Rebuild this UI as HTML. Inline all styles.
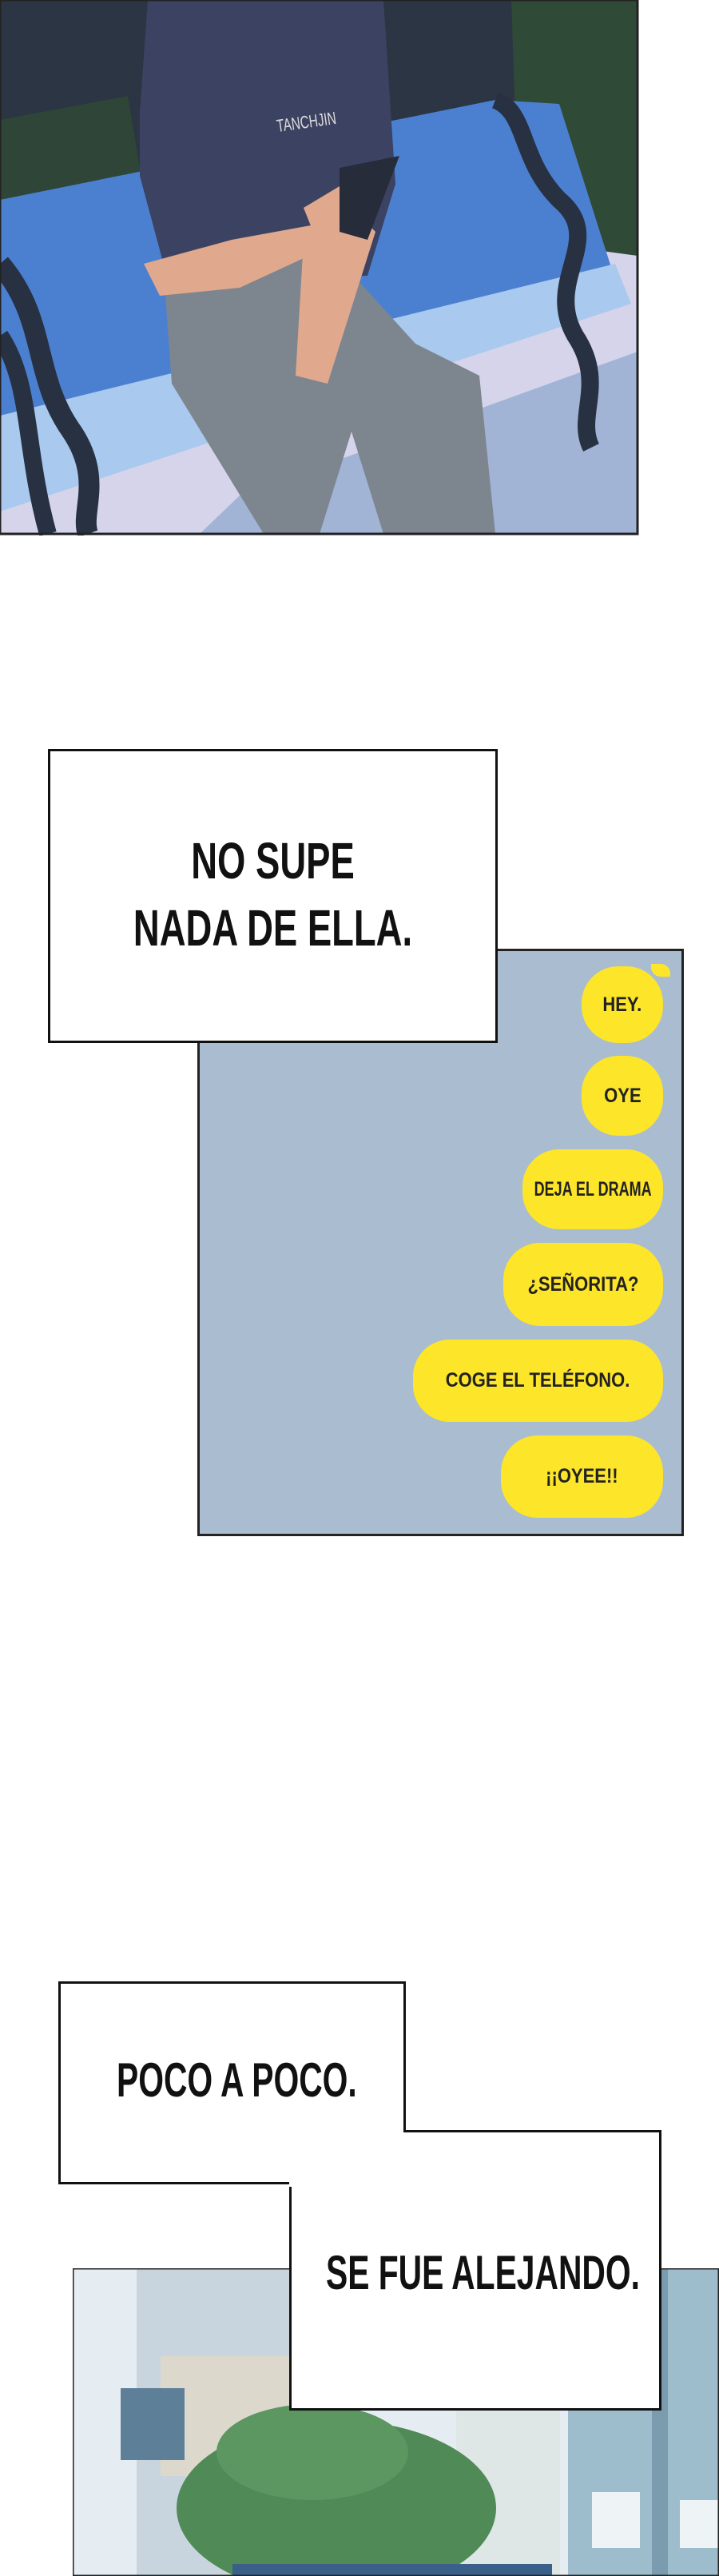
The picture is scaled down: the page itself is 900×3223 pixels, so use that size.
<!DOCTYPE html>
<html><head><meta charset="utf-8"><style>
html,body{margin:0;padding:0;background:#fff;}
body{width:900px;height:3223px;position:relative;overflow:hidden;font-family:"Liberation Sans",sans-serif;}
.abs{position:absolute;}
.box{position:absolute;background:#fff;border:3px solid #111;box-sizing:border-box;}
.cap{position:absolute;font-family:"Liberation Sans",sans-serif;color:#111;white-space:nowrap;font-weight:bold;}
.bub{position:absolute;background:#fde52a;border-radius:46px;display:flex;align-items:center;justify-content:center;font-family:"Liberation Sans","DejaVu Sans",sans-serif;font-weight:bold;font-size:25px;color:#222;white-space:nowrap;}
.bub span{display:inline-block;transform:scaleX(0.88);}
</style></head><body>

<!-- top panel -->
<svg class="abs" style="left:0;top:0" width="800" height="670" viewBox="0 0 800 670">
<rect x="0" y="0" width="798" height="668" fill="#d6d4ea"/>
<rect x="0" y="0" width="798" height="300" fill="#2c3543"/>
<polygon points="640,0 798,0 798,320 650,300" fill="#2f4a36"/>
<polygon points="0,150 160,120 180,240 0,280" fill="#2e4537"/>
<polygon points="0,250 620,125 700,130 770,350 0,600" fill="#4b80d0"/>
<polygon points="0,520 770,330 790,380 0,640" fill="#a9c9ee"/>
<polygon points="300,620 798,440 798,668 250,668" fill="#8aa6cc" opacity="0.7"/>
<path d="M620,125 C660,140 650,200 700,250 C760,300 680,350 720,420 C760,480 720,520 740,560" stroke="#283142" stroke-width="22" fill="none"/>
<path d="M0,330 C60,400 40,470 90,540 C130,600 100,640 110,668" stroke="#283142" stroke-width="26" fill="none"/>
<path d="M0,420 C40,480 30,560 60,668" stroke="#283142" stroke-width="22" fill="none"/>
<polygon points="175,140 185,0 480,0 495,230 460,345 210,350 175,220" fill="#3c4262"/>
<polygon points="205,340 420,320 520,430 600,470 620,668 480,668 440,540 400,668 330,668 215,480" fill="#7d858f"/>
<polygon points="180,330 290,300 400,280 430,300 300,360 200,370" fill="#e0a98e"/>
<polygon points="380,300 440,260 470,290 410,480 370,470" fill="#e0a98e"/>
<polygon points="380,260 430,230 470,250 460,300 400,310" fill="#e0a98e"/>
<polygon points="425,210 500,195 460,300 425,290" fill="#262c3a"/>
<rect x="0" y="0" width="798" height="668" fill="none" stroke="#222" stroke-width="3"/>
</svg>
<div class="cap" style="left:330px;top:140px;font-size:22px;color:#ddd;font-weight:normal;transform:rotate(-8deg) scaleX(0.7);">TANCHJIN</div>

<!-- blue chat panel -->
<div class="abs" style="left:247px;top:1187px;width:609px;height:735px;background:#aabcd0;border:3px solid #222;box-sizing:border-box;"></div>
<div class="bub" style="left:728px;top:1209px;width:102px;height:96px;"><span>HEY.</span></div>
<div class="abs" style="left:815px;top:1206px;width:24px;height:16px;background:#fde52a;border-radius:0 12px 0 12px;"></div>
<div class="bub" style="left:728px;top:1321px;width:102px;height:100px;"><span>OYE</span></div>
<div class="bub" style="left:654px;top:1438px;width:176px;height:100px;"><span style="transform:scaleX(0.72)">DEJA EL DRAMA</span></div>
<div class="bub" style="left:630px;top:1555px;width:200px;height:104px;"><span>¿SEÑORITA?</span></div>
<div class="bub" style="left:517px;top:1676px;width:313px;height:103px;"><span>COGE EL TELÉFONO.</span></div>
<div class="bub" style="left:627px;top:1796px;width:203px;height:103px;"><span>¡¡OYEE!!</span></div>

<!-- caption box 1 -->
<div class="box" style="left:60px;top:937px;width:563px;height:368px;"></div>
<div class="cap" style="left:60px;width:563px;text-align:center;top:1035px;font-size:64px;line-height:84px;transform:scaleX(0.71);">NO SUPE<br>NADA DE ELLA.</div>

<!-- bottom panel -->
<svg class="abs" style="left:91px;top:2838px" width="809" height="385" viewBox="0 0 809 385">
<rect width="809" height="385" fill="#e6edf2"/>
<rect x="80" y="0" width="220" height="385" fill="#c9d5de"/>
<rect x="110" y="110" width="230" height="150" fill="#dcd8cc"/>
<rect x="60" y="150" width="80" height="90" fill="#5e7f98"/>
<rect x="620" y="0" width="189" height="385" fill="#9dbccc"/>
<rect x="725" y="0" width="20" height="385" fill="#7b9cae"/>
<rect x="650" y="280" width="60" height="70" fill="#eef3f5"/>
<rect x="760" y="290" width="49" height="60" fill="#eef3f5"/>
<rect x="480" y="150" width="130" height="235" fill="#dfe6e6"/>
<ellipse cx="330" cy="300" rx="200" ry="110" fill="#4f8a57"/>
<ellipse cx="300" cy="230" rx="120" ry="60" fill="#5c9660"/>
<rect x="200" y="370" width="400" height="15" fill="#3a5f88"/>
<rect x="0" y="0" width="809" height="385" fill="none" stroke="#222" stroke-width="3"/>
</svg>

<!-- caption boxes bottom -->
<div class="box" style="left:73px;top:2479px;width:435px;height:254px;"></div>
<div class="box" style="left:362px;top:2665px;width:466px;height:351px;"></div>
<div class="abs" style="left:362px;top:2665px;width:143px;height:71px;background:#fff;"></div>
<div class="cap" style="left:146px;top:2566px;font-size:60px;line-height:74px;transform:scaleX(0.68);transform-origin:0 0;">POCO A POCO.</div>
<div class="cap" style="left:408px;top:2807px;font-size:60px;line-height:74px;transform:scaleX(0.68);transform-origin:0 0;">SE FUE ALEJANDO.</div>

</body></html>
